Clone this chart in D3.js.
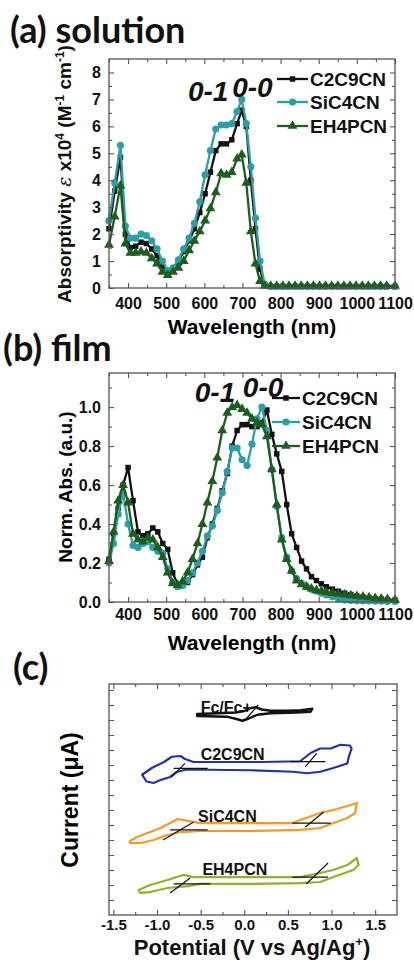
<!DOCTYPE html>
<html><head><meta charset="utf-8">
<script src="https://cdn.jsdelivr.net/npm/d3@7"></script>
<style>body{margin:0;background:#fff}svg{display:block}</style>
</head><body>
<svg id="c" width="414" height="961"></svg>
<script>
// ---------- DATA ----------
const seriesNames = ["C2C9CN", "SiC4CN", "EH4PCN"];
// (a) solution
const wlA = [350,365,380,393,406,420,434,448,462,476,490,504,518,532,546,560,574,588,602,616,630,644,658,672,686,698,710,722,734,746,758,
  774,790,806,822,838,854,870,886,902,918,934,950,966,982,998,1014,1030,1046,1062,1078,1100];
const solC2C9CN = [2.2,3.6,4.85,2.0,1.5,1.55,1.7,1.65,1.45,1.2,0.8,0.55,0.7,1.0,1.35,1.75,2.2,2.8,3.5,4.3,5.1,5.35,5.35,5.5,6.1,6.6,6.0,4.0,2.2,0.7,0.1,
  0.05,0.05,0.05,0.05,0.05,0.05,0.05,0.05,0.05,0.05,0.05,0.05,0.05,0.05,0.05,0.05,0.05,0.05,0.05,0.05,0.05];
const solSiC4CN = [2.5,3.9,5.3,2.3,1.85,1.85,2.0,1.95,1.75,1.45,1.0,0.65,0.75,1.05,1.45,1.85,2.4,3.2,4.2,5.1,5.9,6.05,6.05,6.1,6.55,7.0,6.1,4.5,2.6,1.0,0.15,
  0.06,0.06,0.06,0.06,0.06,0.06,0.06,0.06,0.06,0.06,0.06,0.06,0.06,0.06,0.06,0.06,0.06,0.06,0.06,0.06,0.06];
const solEH4PCN = [1.6,2.65,3.8,1.65,1.3,1.3,1.35,1.3,1.1,0.9,0.6,0.48,0.6,0.75,1.0,1.4,1.75,2.1,2.5,2.95,3.55,4.25,4.2,4.3,4.8,4.95,3.9,2.1,0.9,0.25,0.08,
  0.08,0.08,0.08,0.08,0.08,0.08,0.08,0.08,0.08,0.08,0.08,0.08,0.08,0.08,0.08,0.08,0.08,0.08,0.08,0.08,0.08];
// (b) film
const wlB = [350,362,374,387,400,413,426,439,452,465,478,491,504,517,530,543,556,569,582,595,608,621,634,647,660,673,686,699,712,725,
  738,751,764,777,790,803,816,829,842,855,868,881,894,907,920,936,952,968,984,1000,1016,1032,1048,1064,1080,1100];
const filmC2C9CN = [0.22,0.35,0.48,0.60,0.69,0.52,0.36,0.34,0.35,0.38,0.36,0.30,0.27,0.15,0.09,0.085,0.10,0.14,0.19,0.23,
  0.33,0.40,0.48,0.57,0.66,0.80,0.88,0.91,0.91,0.90,0.90,0.92,0.985,0.86,0.76,0.67,0.50,0.35,0.28,0.21,
  0.17,0.13,0.11,0.093,0.078,0.066,0.055,0.045,0.038,0.03,0.025,0.02,0.017,0.014,0.012,0.01];
const filmSiC4CN = [0.20,0.30,0.45,0.56,0.40,0.29,0.28,0.30,0.31,0.28,0.26,0.25,0.17,0.10,0.078,0.085,0.11,0.15,0.20,0.26,
  0.34,0.39,0.47,0.56,0.67,0.79,0.79,0.73,0.70,0.81,0.94,1.0,0.88,0.68,0.49,0.33,0.23,0.16,0.12,0.096,
  0.08,0.065,0.055,0.045,0.036,0.027,0.016,0.01,0.008,0.006,0.005,0.005,0.004,0.004,0.003,0.003];
const filmEH4PCN = [0.21,0.36,0.52,0.60,0.51,0.35,0.32,0.31,0.33,0.32,0.28,0.23,0.15,0.095,0.087,0.105,0.15,0.22,0.30,0.40,
  0.51,0.62,0.74,0.88,0.97,1.0,1.01,0.99,0.97,0.94,0.92,0.91,0.85,0.68,0.50,0.32,0.22,0.16,0.11,0.09,
  0.078,0.068,0.06,0.055,0.051,0.046,0.042,0.038,0.034,0.030,0.027,0.023,0.02,0.017,0.014,0.01];
// (c) cyclic voltammetry loops [potential V, current (arb.)]
const cvFc = [[-0.54,13.4],[-0.3,13.45],[-0.1,13.5],[0.0,13.6],[0.08,13.8],[0.13,13.85],[0.2,13.7],[0.3,13.62],[0.5,13.62],[0.65,13.65],[0.78,13.75],[0.76,13.55],[0.6,13.5],[0.3,13.45],[0.15,13.35],[0.05,13.1],[-0.02,12.95],[-0.08,13.05],[-0.2,13.22],[-0.54,13.27]];
const cvC2C9CN = [[-1.17,9.35],[-1.06,9.8],[-0.92,10.2],[-0.83,10.55],[-0.73,10.6],[-0.68,10.4],[-0.58,10.2],[-0.3,10.2],[0.2,10.2],[0.64,10.25],[0.76,10.8],[0.87,11.1],[0.99,11.1],[1.1,11.35],[1.21,11.3],[1.23,11.1],[1.2,10.6],[1.18,10.1],[1.02,9.8],[0.87,9.55],[0.72,9.45],[0.56,9.55],[0.07,9.65],[-0.66,9.7],[-0.77,9.55],[-0.85,9.2],[-0.96,9.0],[-1.04,8.8],[-1.12,8.9]];
const cvSiC4CN = [[-1.31,4.93],[-1.23,5.2],[-1.11,5.47],[-0.96,5.8],[-0.85,6.13],[-0.76,6.4],[-0.65,6.27],[-0.5,6.13],[0.07,6.13],[0.56,6.13],[0.64,6.33],[0.87,6.8],[1.02,7.0],[1.18,7.27],[1.29,7.47],[1.27,6.8],[1.18,6.47],[1.02,6.13],[0.87,5.8],[0.64,5.67],[0.07,5.6],[-0.5,5.6],[-0.73,5.53],[-0.88,5.33],[-1.04,5.0],[-1.19,4.8],[-1.31,4.8]];
const cvEH4PCN = [[-1.21,1.67],[-1.08,2.0],[-0.88,2.33],[-0.7,2.67],[-0.58,2.53],[-0.39,2.53],[0.53,2.53],[0.64,2.53],[0.87,2.8],[1.02,3.0],[1.18,3.33],[1.29,3.8],[1.31,3.33],[1.25,3.0],[1.02,2.53],[0.87,2.2],[0.64,2.13],[0.07,2.07],[-0.5,2.07],[-0.65,1.93],[-0.88,1.8],[-1.08,1.53],[-1.19,1.47]];
const tanFc = [[[0.01,13.0],[0.16,14.0]]];
const tanC2C9CN = [[[-0.81,9.78],[-0.42,9.78]],[[-0.83,9.22],[-0.68,10.11]],[[0.53,10.22],[0.93,10.22]],[[0.70,9.89],[0.83,10.78]]];
const tanSiC4CN = [[[-0.85,5.67],[-0.42,5.67]],[[-0.93,5.0],[-0.58,6.2]],[[0.55,6.13],[0.99,6.13]],[[0.70,5.87],[0.91,6.87]]];
const tanEH4PCN = [[[-0.81,2.07],[-0.39,2.07]],[[-0.85,1.47],[-0.62,2.47]],[[0.55,2.53],[0.96,2.53]],[[0.71,2.07],[0.96,3.47]]];
const cvLabels = [["Fc/Fc+",-0.50,13.47],["C2C9CN",-0.50,10.33],["SiC4CN",-0.53,6.2],["EH4PCN",-0.48,2.67]];
// tick labels
const xTicksNm = [400,500,600,700,800,900,1000,1100];
const yTicksA = [0,1,2,3,4,5,6,7,8];
const yTicksB = [0.0,0.2,0.4,0.6,0.8,1.0];
const xTicksV = [-1.5,-1.0,-0.5,0.0,0.5,1.0,1.5];

// ---------- DRAW ----------
const svg = d3.select('#c');
const F = "'Liberation Sans', Arial, sans-serif";
const COL = {C2C9CN:"#111111", SiC4CN:"#2b9ea6", EH4PCN:"#1d5e1d"};
const CVCOL = {Fc:"#111111", C2C9CN:"#2231a8", SiC4CN:"#f59a28", EH4PCN:"#9aab2e"};
const SYM = {C2C9CN:d3.symbol().type(d3.symbolSquare).size(30),
             SiC4CN:d3.symbol().type(d3.symbolCircle).size(40),
             EH4PCN:d3.symbol().type(d3.symbolTriangle).size(42)};

function axes(g, x, y, o){
  const [x0,x1]=x.range(), [y0,y1]=y.range();
  const mk=(sel)=>{sel.select('.domain').remove(); sel.selectAll('line').attr('stroke','#555').attr('stroke-width',1.1);
    sel.selectAll('text').attr('font-family',F).attr('font-weight','bold').attr('font-size',o.fs||16).attr('fill','#111');};
  const none=()=> '';
  g.append('g').attr('transform',`translate(0,${y0})`).call(d3.axisBottom(x).tickValues(o.xMaj).tickFormat(o.xFmt||none).tickSizeInner(-5).tickSizeOuter(0).tickPadding(o.xPad)).call(mk);
  g.append('g').attr('transform',`translate(0,${y0})`).call(d3.axisBottom(x).tickValues(o.xMin).tickFormat(none).tickSizeInner(-3).tickSizeOuter(0)).call(mk);
  g.append('g').attr('transform',`translate(0,${y1})`).call(d3.axisTop(x).tickValues(o.xMaj).tickFormat(none).tickSizeInner(-5).tickSizeOuter(0)).call(mk);
  g.append('g').attr('transform',`translate(0,${y1})`).call(d3.axisTop(x).tickValues(o.xMin).tickFormat(none).tickSizeInner(-3).tickSizeOuter(0)).call(mk);
  g.append('g').attr('transform',`translate(${x0},0)`).call(d3.axisLeft(y).tickValues(o.yMaj).tickFormat(o.yFmt||none).tickSizeInner(-5).tickSizeOuter(0).tickPadding(8)).call(mk);
  g.append('g').attr('transform',`translate(${x0},0)`).call(d3.axisLeft(y).tickValues(o.yMin).tickFormat(none).tickSizeInner(-3).tickSizeOuter(0)).call(mk);
  g.append('g').attr('transform',`translate(${x1},0)`).call(d3.axisRight(y).tickValues(o.yMaj).tickFormat(none).tickSizeInner(-5).tickSizeOuter(0)).call(mk);
  g.append('g').attr('transform',`translate(${x1},0)`).call(d3.axisRight(y).tickValues(o.yMin).tickFormat(none).tickSizeInner(-3).tickSizeOuter(0)).call(mk);
  g.append('rect').attr('x',x0).attr('y',y1).attr('width',x1-x0).attr('height',y0-y1).attr('fill','none').attr('stroke','#555').attr('stroke-width',1.3);
}
function spectra(g, x, y, wl, data){
  seriesNames.forEach(n=>{
    const pts = wl.map((w,i)=>[w,data[n][i]]);
    g.append('path').datum(pts).attr('fill','none').attr('stroke',COL[n]).attr('stroke-width',2.3).attr('stroke-linejoin','round')
      .attr('d',d3.line().x(d=>x(d[0])).y(d=>y(d[1])));
    g.append('g').selectAll('path').data(pts).join('path').attr('transform',d=>`translate(${x(d[0])},${y(d[1])})`)
      .attr('d',SYM[n]()).attr('fill',COL[n]);
  });
}
function legend(g, x0, x1, xt, ys){
  seriesNames.forEach((n,i)=>{
    g.append('line').attr('x1',x0).attr('x2',x1).attr('y1',ys[i]).attr('y2',ys[i]).attr('stroke',COL[n]).attr('stroke-width',2.3);
    g.append('path').attr('transform',`translate(${(x0+x1)/2},${ys[i]})`).attr('d',SYM[n]()).attr('fill',COL[n]);
    g.append('text').attr('x',xt).attr('y',ys[i]).attr('dy','0.36em').attr('font-family',F).attr('font-weight','bold').attr('font-size',19).attr('fill','#111').text(n);
  });
}
function title(txt,x,y){ svg.append('text').attr('x',x).attr('y',y).attr('font-family',"Lato, 'Open Sans', sans-serif").attr('font-weight','bold').attr('font-size',36).attr('fill','#111').text(txt); }
function peakLabels(g,x,y,lbls){ lbls.forEach(l=>g.append('text').attr('x',x(l[1])).attr('y',y(l[2])).attr('font-family',F).attr('font-weight','bold').attr('font-style','italic').attr('font-size',28).attr('fill','#111').text(l[0])); }

// Panel (a)
title('(a) solution',10,43);
const xA = d3.scaleLinear().domain([350,1100]).range([109,395]);
const yA = d3.scaleLinear().domain([0,8.5]).range([288,59]);
const gA = svg.append('g');
spectra(gA,xA,yA,wlA,{C2C9CN:solC2C9CN,SiC4CN:solSiC4CN,EH4PCN:solEH4PCN});
axes(gA,xA,yA,{xMaj:xTicksNm,xMin:[350,450,550,650,750,850,950,1050],xFmt:d=>d,xPad:10,
  yMaj:yTicksA,yMin:[0.5,1.5,2.5,3.5,4.5,5.5,6.5,7.5],yFmt:d=>d});
peakLabels(gA,xA,yA,[["0-1",557,6.95],["0-0",673,7.1]]);
legend(gA,277,308,310,[79,102,126]);
gA.append('text').attr('x',252).attr('y',334).attr('text-anchor','middle').attr('font-family',F).attr('font-weight','bold').attr('font-size',21).text('Wavelength (nm)');
const ytA = gA.append('text').attr('transform','translate(71,174) rotate(-90)').attr('text-anchor','middle').attr('font-family',F).attr('font-weight','bold').attr('font-size',19).attr('fill','#111');
ytA.append('tspan').text('Absorptivity ');
ytA.append('tspan').attr('font-family',"'DejaVu Serif', serif").attr('font-style','italic').attr('font-weight','normal').text('ε');
ytA.append('tspan').text(' x10');
ytA.append('tspan').attr('dy',-7).attr('font-size',12).text('4');
ytA.append('tspan').attr('dy',7).text(' (M');
ytA.append('tspan').attr('dy',-7).attr('font-size',12).text('-1');
ytA.append('tspan').attr('dy',7).text(' cm');
ytA.append('tspan').attr('dy',-7).attr('font-size',12).text('-1');
ytA.append('tspan').attr('dy',7).text(')');

// Panel (b)
title('(b) film',3,361);
const xB = d3.scaleLinear().domain([350,1100]).range([109,395]);
const yB = d3.scaleLinear().domain([0,1.175]).range([602,373]);
const gB = svg.append('g');
spectra(gB,xB,yB,wlB,{C2C9CN:filmC2C9CN,SiC4CN:filmSiC4CN,EH4PCN:filmEH4PCN});
axes(gB,xB,yB,{xMaj:xTicksNm,xMin:[350,450,550,650,750,850,950,1050],xFmt:d=>d,xPad:7,
  yMaj:yTicksB,yMin:[0.1,0.3,0.5,0.7,0.9,1.1],yFmt:d=>d.toFixed(1)});
peakLabels(gB,xB,yB,[["0-1",575,1.026],["0-0",701,1.051]]);
legend(gB,272,300,302,[398,422,446]);
gB.append('text').attr('x',252).attr('y',650).attr('text-anchor','middle').attr('font-family',F).attr('font-weight','bold').attr('font-size',21).text('Wavelength (nm)');
gB.append('text').attr('transform','translate(72,487) rotate(-90)').attr('text-anchor','middle').attr('font-family',F).attr('font-weight','bold').attr('font-size',19).text('Norm. Abs. (a.u.)');

// Panel (c)
title('(c)',13,680);
const xC = d3.scaleLinear().domain([-1.55,1.75]).range([109,397]);
const yC = d3.scaleLinear().domain([0,15.4]).range([915,684]);
const gC = svg.append('g');
const lineC = d3.line().x(d=>xC(d[0])).y(d=>yC(d[1]));
[["Fc",cvFc,tanFc],["C2C9CN",cvC2C9CN,tanC2C9CN],["SiC4CN",cvSiC4CN,tanSiC4CN],["EH4PCN",cvEH4PCN,tanEH4PCN]].forEach(([n,loop,tans])=>{
  gC.append('path').datum(loop).attr('fill','none').attr('stroke',CVCOL[n]).attr('stroke-width',n==='Fc'?2.4:2.2).attr('stroke-linejoin','round')
    .attr('d',lineC.curve(d3.curveLinearClosed));
  tans.forEach(t=>gC.append('path').datum(t).attr('stroke','#111').attr('stroke-width',1.2).attr('fill','none').attr('d',d3.line().x(d=>xC(d[0])).y(d=>yC(d[1]))));
});
cvLabels.forEach(l=>gC.append('text').attr('x',xC(l[1])).attr('y',yC(l[2])).attr('font-family',F).attr('font-weight','bold').attr('font-size',16).attr('fill','#111').text(l[0]));
axes(gC,xC,yC,{xMaj:xTicksV,xMin:[-1.25,-0.75,-0.25,0.25,0.75,1.25],xFmt:d=>d.toFixed(1),xPad:4,
  yMaj:d3.range(1,16),yMin:[],fs:15});
const xtC = gC.append('text').attr('x',252).attr('y',955).attr('text-anchor','middle').attr('font-family',F).attr('font-weight','bold').attr('font-size',22).attr('fill','#111');
xtC.append('tspan').text('Potential (V vs Ag/Ag');
xtC.append('tspan').attr('dy',-9).attr('font-size',13).text('+');
xtC.append('tspan').attr('dy',9).text(')');
gC.append('text').attr('transform','translate(78,800) rotate(-90)').attr('text-anchor','middle').attr('font-family',F).attr('font-weight','bold').attr('font-size',23).text('Current (μA)');
</script>
</body></html>
